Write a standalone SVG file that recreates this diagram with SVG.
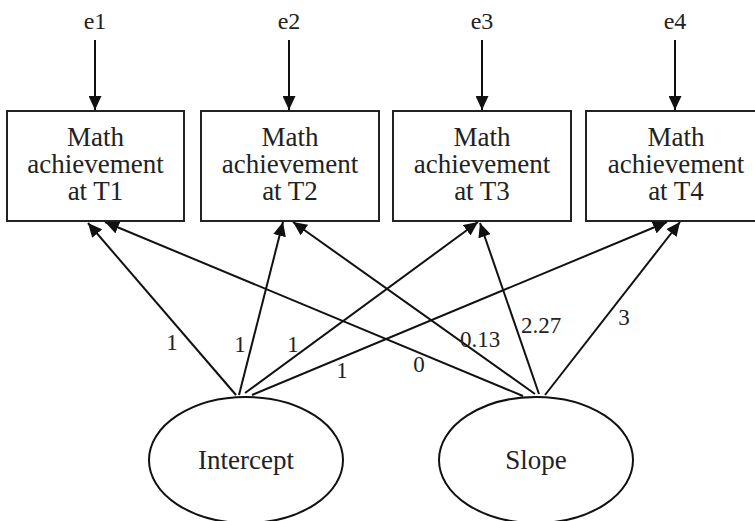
<svg xmlns="http://www.w3.org/2000/svg" width="755" height="521" viewBox="0 0 755 521">
<defs>
<marker id="ah" markerUnits="userSpaceOnUse" markerWidth="15" markerHeight="13" refX="14" refY="6.5" orient="auto">
<path d="M0,0 L14,6.5 L0,13 z" fill="#111"/>
</marker>
<style>
.box{fill:#fff;stroke:#222;stroke-width:2}
.ell{fill:#fff;stroke:#111;stroke-width:2}
.t{font-family:"Liberation Serif","Times New Roman",serif;font-size:27px;fill:#222;text-anchor:middle}
.e{font-family:"Liberation Serif","Times New Roman",serif;font-size:24px;fill:#222;text-anchor:middle}
.l{font-family:"Liberation Serif","Times New Roman",serif;font-size:23px;fill:#222;text-anchor:middle}
.c{stroke:#111;stroke-width:2;fill:none;marker-end:url(#ah)}
</style>
</defs>
<rect width="755" height="521" fill="#fff"/>

<g id="e1"><text class="e" x="95" y="29">e1</text></g>
<g id="e2"><text class="e" x="289" y="29">e2</text></g>
<g id="e3"><text class="e" x="482" y="29">e3</text></g>
<g id="e4"><text class="e" x="675" y="29">e4</text></g>

<g id="T1"><rect class="box" x="7" y="111" width="177" height="110"/>
<text class="t" x="95.5" y="146">Math</text><text class="t" x="95.5" y="173">achievement</text><text class="t" x="95.5" y="200">at T1</text></g>
<g id="T2"><rect class="box" x="201" y="111" width="178" height="110"/>
<text class="t" x="290" y="146">Math</text><text class="t" x="290" y="173">achievement</text><text class="t" x="290" y="200">at T2</text></g>
<g id="T3"><rect class="box" x="393" y="111" width="178" height="110"/>
<text class="t" x="482" y="146">Math</text><text class="t" x="482" y="173">achievement</text><text class="t" x="482" y="200">at T3</text></g>
<g id="T4"><rect class="box" x="586" y="111" width="180" height="110"/>
<text class="t" x="676" y="146">Math</text><text class="t" x="676" y="173">achievement</text><text class="t" x="676" y="200">at T4</text></g>

<g id="Intercept"><ellipse class="ell" cx="246" cy="460" rx="97" ry="63"/>
<text class="t" x="246" y="469">Intercept</text></g>
<g id="Slope"><ellipse class="ell" cx="536" cy="460" rx="97" ry="63"/>
<text class="t" x="536" y="469">Slope</text></g>

<g id="connectors">
<line class="c" x1="95" y1="40" x2="95" y2="110"/>
<line class="c" x1="289" y1="40" x2="289" y2="110"/>
<line class="c" x1="482" y1="40" x2="482" y2="110"/>
<line class="c" x1="675" y1="40" x2="675" y2="110"/>

<line class="c" x1="236" y1="395" x2="88" y2="223"/>
<line class="c" x1="239" y1="395" x2="283" y2="222"/>
<line class="c" x1="245" y1="393" x2="478" y2="222"/>
<line class="c" x1="252" y1="395" x2="667" y2="222"/>

<line class="c" x1="523" y1="396" x2="105" y2="222"/>
<line class="c" x1="535" y1="394" x2="293" y2="222"/>
<line class="c" x1="539" y1="394" x2="480" y2="223"/>
<line class="c" x1="545" y1="395" x2="680" y2="222"/>
</g>

<g id="labels">
<text class="l" x="172" y="350">1</text>
<text class="l" x="240" y="352">1</text>
<text class="l" x="293" y="352">1</text>
<text class="l" x="342" y="378">1</text>
<text class="l" x="419" y="372">0</text>
<text class="l" x="480" y="347">0.13</text>
<text class="l" x="541" y="333">2.27</text>
<text class="l" x="624" y="325">3</text>
</g>
</svg>
